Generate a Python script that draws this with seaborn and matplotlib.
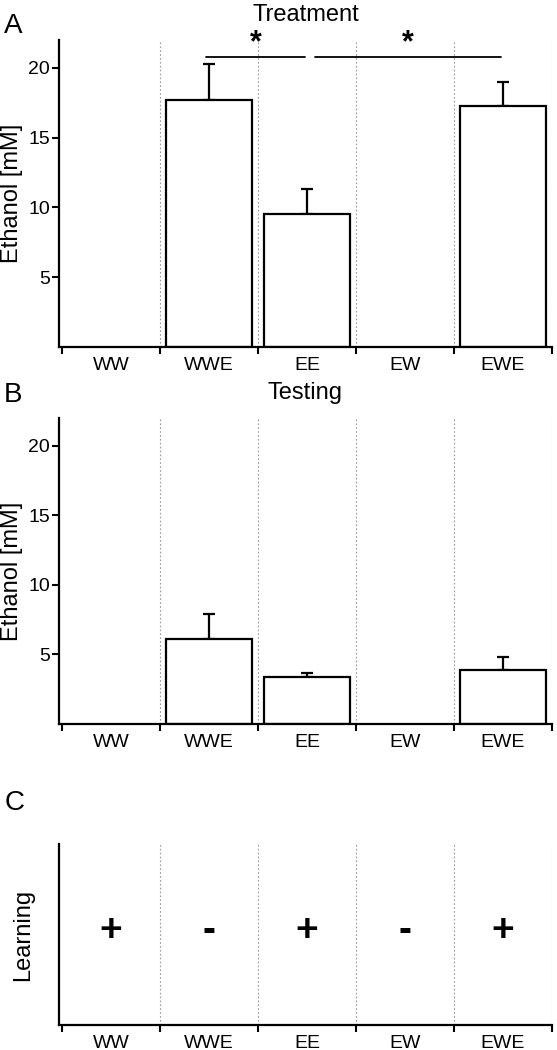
import numpy as np
import pandas as pd
import seaborn as sns
import matplotlib.pyplot as plt

# groups on the x axis
categories = ["WW", "WWE", "EE", "EW", "EWE"]

# ethanol groups (WW and EW got no ethanol, so no bar)
ethanol_groups = ["WWE", "EE", "EWE"]
treatment_mean = [17.7, 9.5, 17.3]
treatment_sem = [2.6, 1.8, 1.7]
testing_mean = [6.1, 3.35, 3.9]
testing_sem = [1.8, 0.3, 0.9]

# significance brackets in panel A
sig_pairs = [("WWE", "EE"), ("EE", "EWE")]
sig_height = 20.8

# learning outcome per group
learning = ["+", "-", "+", "-", "+"]

sns.set_style("white")
plt.rcParams['font.family'] = ['Liberation Sans', 'DejaVu Sans']
plt.rcParams['text.color'] = "black"
plt.rcParams['axes.labelcolor'] = "black"
plt.rcParams['xtick.color'] = "black"
plt.rcParams['ytick.color'] = "black"


def style_axis(ax):
    """Common look: left/bottom spines, ticks between groups, dotted separators."""
    sns.despine(ax=ax)
    for s in ["left", "bottom"]:
        ax.spines[s].set_linewidth(1.6)
        ax.spines[s].set_color("black")
    ax.set_xlim(-0.53, len(categories) - 0.5)
    ax.set_xticks(range(len(categories)))
    ax.set_xticklabels(categories, fontsize=14)
    ax.set_xticks(np.arange(len(categories) + 1) - 0.5, minor=True)
    ax.tick_params(axis="x", which="major", bottom=True, length=0, pad=7,
                   labelcolor="black")
    ax.tick_params(axis="x", which="minor", bottom=True, direction="out",
                   length=5, width=1.5, color="black")
    for b in np.arange(1, len(categories) + 1) - 0.5:
        ax.axvline(b, color="#999999", ls=(0, (1.5, 2)), lw=0.8, zorder=0)
    ax.set_xlabel("")


def ethanol_panel(ax, means, sems, title):
    df = pd.DataFrame({"group": ethanol_groups, "ethanol": means})
    sns.barplot(data=df, x="group", y="ethanol", order=categories,
                color="white", edgecolor="black", linewidth=1.6,
                width=0.88, ax=ax, zorder=2)
    pos = [categories.index(g) for g in ethanol_groups]
    ax.errorbar(pos, means, yerr=[np.zeros(len(sems)), sems], fmt="none",
                ecolor="black", elinewidth=1.6, capsize=4, capthick=1.6,
                zorder=1)
    style_axis(ax)
    ax.set_ylim(0, 22)
    ax.set_yticks([5, 10, 15, 20])
    ax.tick_params(axis="y", left=True, direction="out", length=5, width=1.5,
                   labelsize=14, pad=1.5, color="black", labelcolor="black")
    ax.set_ylabel("Ethanol [mM]", fontsize=17, color="black")
    ax.yaxis.set_label_coords(-0.072, 0.5)
    ax.set_title(title, fontsize=17, pad=14, color="black")


fig = plt.figure(figsize=(5.57, 10.5), dpi=100)
ax_a = fig.add_axes([0.1059, 0.6695, 0.885, 0.2924])
ax_b = fig.add_axes([0.1059, 0.3105, 0.885, 0.2914])
ax_c = fig.add_axes([0.1059, 0.0238, 0.885, 0.1724])

ethanol_panel(ax_a, treatment_mean, treatment_sem, "Treatment")
ethanol_panel(ax_b, testing_mean, testing_sem, "Testing")

for g1, g2 in sig_pairs:
    i1, i2 = categories.index(g1), categories.index(g2)
    x1 = i1 + (0.08 if i1 == 2 else -0.03)
    x2 = i2 - 0.02
    ax_a.plot([x1, x2], [sig_height, sig_height], color="black", lw=1.3,
              clip_on=False)
    ax_a.text((x1 + x2) / 2, sig_height - 0.1, "*", ha="center", va="bottom",
              fontsize=22, fontweight="bold", color="black")

# panel C: learning yes/no
style_axis(ax_c)
ax_c.set_ylim(0, 1)
ax_c.set_yticks([])
for i, sym in enumerate(learning):
    ax_c.text(i, 0.52, sym, ha="center", va="center", fontsize=28,
              fontweight="bold", color="black")
ax_c.set_ylabel("Learning", fontsize=17, color="black")
ax_c.yaxis.set_label_coords(-0.05, 0.5)

fig.text(13 / 557, 1 - 26 / 1050, "A", fontsize=20, ha="center", va="center")
fig.text(13 / 557, 1 - 395 / 1050, "B", fontsize=20, ha="center", va="center")
fig.text(15 / 557, 1 - 803 / 1050, "C", fontsize=20, ha="center", va="center")

fig.savefig("out.png", dpi=100)
